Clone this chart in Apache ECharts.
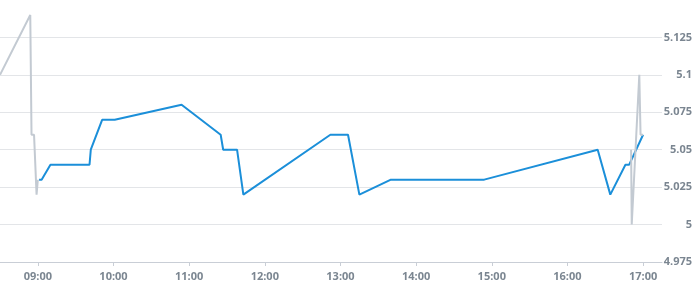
<!DOCTYPE html>
<html>
<head>
<meta charset="utf-8">
<script src="https://cdn.jsdelivr.net/npm/echarts@6/dist/echarts.min.js"></script>
<style>
html,body{margin:0;padding:0;background:#fff;}
#chart{width:695px;height:300px;}
</style>
</head>
<body>
<div id="chart"></div>
<script>
// Regular session (blue)
const sessionTimes = ['09:01','09:03','09:10','09:41','09:42','09:51','10:01','10:54','11:25','11:27','11:38','11:43','12:52','13:06','13:15','13:40','14:54','16:24','16:34','16:46','16:49','17:00'];
const sessionValues = [5.03,5.03,5.04,5.04,5.05,5.07,5.07,5.08,5.06,5.05,5.05,5.02,5.06,5.06,5.02,5.03,5.03,5.05,5.02,5.04,5.04,5.06];
// Pre-open (grey)
const preTimes = ['08:30','08:54','08:55','08:57','08:59','09:00'];
const preValues = [5.10,5.14,5.06,5.06,5.02,5.03];
// Closing auction (grey)
const postTimes = ['16:50:30','16:51','16:57','16:58','17:00'];
const postValues = [5.05,5.00,5.10,5.06,5.06];
// Axis
const axisStart = '08:30';
const axisEnd = '17:15';
const yMin = 4.975, yMax = 5.15, yStep = 0.025;

function ts(s){
  const p = s.split(':').map(Number);
  return new Date(2024,0,2,p[0],p[1],p[2]||0).getTime();
}
function pairs(t,v){ return t.map((x,i)=>[ts(x),v[i]]); }
function pad(n){ return (n<10?'0':'')+n; }

const labelStyle = {color:'#7b8691', fontFamily:'Open Sans', fontWeight:'bold', fontSize:11};
const chart = echarts.init(document.getElementById('chart'), null, {renderer:'canvas'});
chart.setOption({
  animation:false,
  grid:{left:0, right:31, top:0, bottom:38, containLabel:false},
  xAxis:{
    type:'time',
    min: ts(axisStart), max: ts(axisEnd),
    minInterval: 3600*1000, maxInterval: 3600*1000,
    splitNumber: 9,
    axisLine:{show:true, lineStyle:{color:'#c9ced6', width:1}},
    axisTick:{show:true, length:4, lineStyle:{color:'#c9ced6'}},
    splitLine:{show:false},
    axisLabel:Object.assign({}, labelStyle, {
      margin:9,
      formatter:function(v){ const d=new Date(v); return pad(d.getHours())+':'+pad(d.getMinutes()); }
    })
  },
  yAxis:{
    type:'value',
    position:'right',
    min:yMin, max:yMax, interval:yStep,
    axisLine:{show:false},
    axisTick:{show:false},
    splitLine:{show:true, showMaxLine:false, lineStyle:{color:'#e3e5e8', width:1}},
    axisLabel:Object.assign({}, labelStyle, {
      align:'right', margin:30, showMaxLabel:false,
      formatter:function(v){ return String(Math.round(v*1000)/1000); }
    })
  },
  series:[
    {type:'line', data:pairs(sessionTimes,sessionValues), showSymbol:false, symbol:'none',
     lineStyle:{color:'#1b8fd9', width:2}, z:2},
    {type:'line', data:pairs(preTimes,preValues), showSymbol:false, symbol:'none',
     lineStyle:{color:'#c3cad2', width:2}, z:3},
    {type:'line', data:pairs(postTimes,postValues), showSymbol:false, symbol:'none',
     lineStyle:{color:'#c3cad2', width:2}, z:3}
  ]
});
</script>
</body>
</html>
